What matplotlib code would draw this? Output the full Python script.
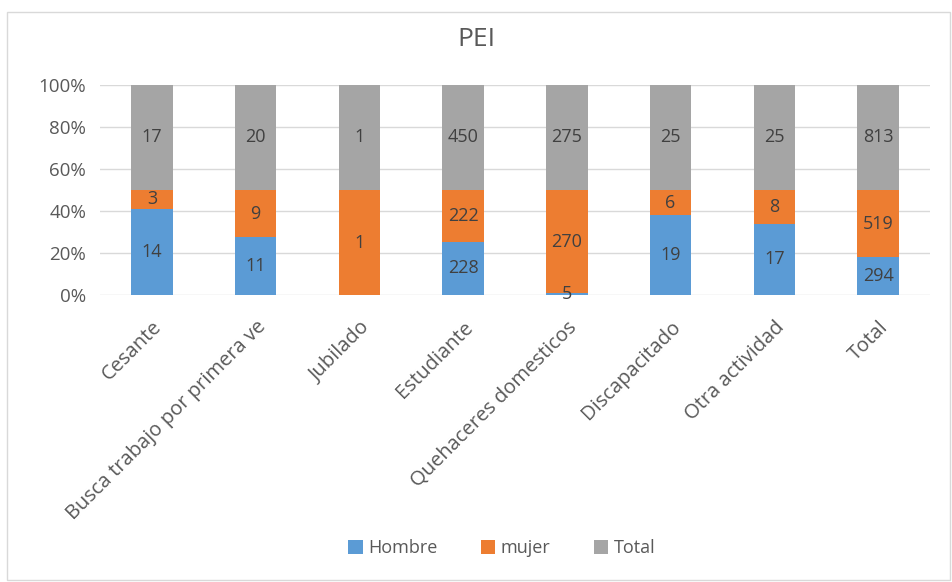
import matplotlib.pyplot as plt
import numpy as np
from matplotlib.patches import Rectangle

plt.rcParams['font.family'] = ['Open Sans', 'DejaVu Sans']

categorias = ["Cesante", "Busca trabajo por primera ve", "Jubilado", "Estudiante",
              "Quehaceres domesticos", "Discapacitado", "Otra actividad", "Total"]
hombre = [14, 11, 0, 228, 5, 19, 17, 294]
mujer = [3, 9, 1, 222, 270, 6, 8, 519]
total = [17, 20, 1, 450, 275, 25, 25, 813]

series = [("Hombre", hombre, "#5B9BD5"), ("mujer", mujer, "#ED7D31"), ("Total", total, "#A5A5A5")]

fig = plt.figure(figsize=(9.52, 5.82), dpi=100)
fig.patches.append(Rectangle((7 / 952, 0.003), 943 / 952, 1 - 12 / 582 - 0.003,
                             transform=fig.transFigure, fill=False, edgecolor="#D9D9D9", lw=1))
ax = fig.add_axes([100 / 952, 1 - 295 / 582, 830 / 952, 210 / 582])

x = np.arange(len(categorias))
sumas = np.array(hombre) + np.array(mujer) + np.array(total)
base = np.zeros(len(categorias))
for nombre, vals, color in series:
    v = np.array(vals, dtype=float)
    frac = v / sumas
    ax.bar(x, frac, 0.4, bottom=base, color=color, label=nombre, zorder=2)
    for i in range(len(x)):
        if v[i] > 0:
            ax.text(x[i], base[i] + frac[i] / 2, str(int(v[i])), ha="center", va="center",
                    fontsize=13, color="#404040", zorder=3)
    base += frac

ax.set_xlim(-0.5, len(categorias) - 0.5)
ax.set_ylim(0, 1)
ax.set_yticks(np.arange(0, 1.01, 0.2))
ax.set_yticklabels([f"{int(round(t * 100))}%" for t in np.arange(0, 1.01, 0.2)])
ax.yaxis.grid(True, color="#D9D9D9", lw=1, zorder=0)
ax.set_axisbelow(True)
for s in ax.spines.values():
    s.set_visible(False)
ax.tick_params(length=0, labelsize=13.5, labelcolor="#595959")
ax.tick_params(axis="y", pad=10)
ax.tick_params(axis="x", pad=16, labelsize=14.5)
ax.set_xticks(x)
ax.set_xticklabels(categorias, rotation=45, ha="right", rotation_mode="anchor")

fig.text(0.5, 1 - 40 / 582, "PEI", ha="center", va="center", fontsize=19, color="#595959")
fig.legend(loc="center", bbox_to_anchor=(0.527, 1 - 548 / 582), ncol=3, frameon=False,
           fontsize=13, labelcolor="#595959", handlelength=0.8, handleheight=0.8,
           handletextpad=0.3, columnspacing=2.4)

fig.savefig("out.png", dpi=100)
